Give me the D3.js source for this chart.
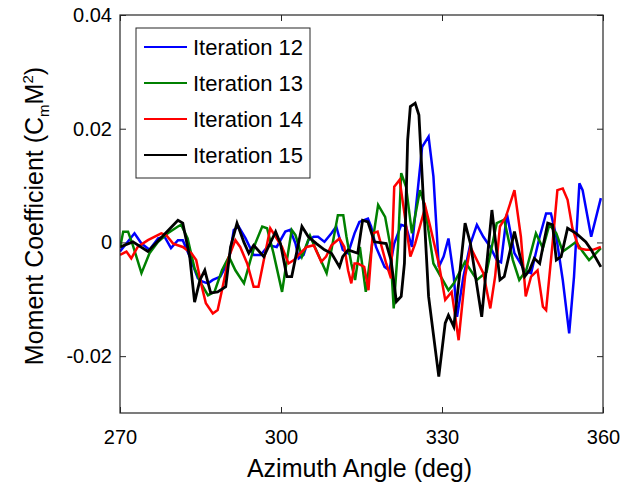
<!DOCTYPE html>
<html>
<head>
<meta charset="utf-8">
<script src="https://cdn.jsdelivr.net/npm/d3@7"></script>
<style>
  html, body { margin: 0; padding: 0; background: #fff; }
  svg { display: block; }
  text { font-family: "Liberation Sans", Arial, Helvetica, sans-serif; fill: #000; }
</style>
</head>
<body>
<svg id="chart" width="628" height="487"></svg>
<script>
// ---------- data ----------
const xTicks = [270, 300, 330, 360];
const yTicks = [0.04, 0.02, 0, -0.02];
const seriesNames = ["Iteration 12", "Iteration 13", "Iteration 14", "Iteration 15"];
const seriesColors = ["#0000ff", "#008000", "#ff0000", "#000000"];

const angles12 = [270.0,272.7,274.0,275.5,277.1,278.3,279.5,280.8,281.7,283.0,284.5,285.4,286.4,287.3,288.7,290.3,291.2,292.1,293.4,294.9,296.2,297.7,299.2,300.8,301.7,302.7,303.3,304.2,305.1,306.1,306.9,308.1,309.4,310.3,311.5,312.5,313.7,314.6,316.2,316.8,317.7,319.3,320.2,321.1,322.4,323.3,324.4,326.3,327.5,328.4,329.4,330.3,331.2,332.2,332.8,334.0,335.3,336.5,337.7,339.0,340.2,341.0,342.1,343.5,345.4,346.6,348.2,349.4,350.3,351.3,352.5,353.7,354.6,355.6,356.2,357.8,359.6];
const values12 = [-0.0016,0.0016,-0.0002,-0.0013,0.0007,0.001,-0.001,0.0004,0.0004,-0.0025,-0.0063,-0.0069,-0.0072,-0.0066,-0.006,-0.0031,0.0022,0.0028,0.0007,-0.0022,-0.0022,-0.0005,-0.0008,0.0019,0.0022,-0.0002,-0.0028,-0.0022,0.0004,0.001,0.001,0.0001,0.0016,0.0028,-0.0013,-0.0019,0.0016,0.0036,0.0042,0.0028,-0.0008,-0.0043,-0.0049,-0.0002,0.0031,0.0028,-0.0008,0.0168,0.0186,0.0116,-0.0043,-0.0025,0.0007,-0.006,-0.0131,-0.006,-0.0002,0.0031,0.001,-0.0008,-0.0031,-0.0035,0.005,-0.0019,-0.0049,-0.0054,0.001,0.0051,0.0051,0.001,-0.0066,-0.016,-0.006,0.0104,0.0092,0.001,0.0078];

const angles13 = [270.0,270.6,271.5,272.4,274.0,275.5,277.1,278.9,280.8,281.4,282.6,283.9,285.1,286.4,287.6,289.0,290.3,291.5,293.1,294.3,295.2,296.5,297.4,298.6,300.2,301.1,302.0,302.7,303.9,305.4,306.3,308.5,309.4,310.6,311.6,312.2,313.1,313.8,314.7,315.8,316.9,318.1,319.4,320.3,321.0,321.8,322.4,323.3,324.4,325.9,326.8,328.4,331.2,332.2,334.3,336.5,338.3,340.2,341.6,343.2,344.4,345.7,347.5,348.8,350.0,351.3,352.5,353.7,355.0,356.2,357.4,358.4,359.6];
const values13 = [-0.001,0.0019,0.0019,-0.0005,-0.0054,-0.0019,0.0001,0.0016,0.0028,0.0031,0.0007,-0.0046,-0.0072,-0.0093,-0.0087,-0.0049,-0.0025,-0.0049,-0.0072,-0.0031,-0.0002,0.0028,0.0025,-0.0019,-0.0087,-0.0031,0.0022,0.0013,-0.0025,0.0012,-0.0008,-0.0054,-0.0013,0.0048,0.0048,0.001,-0.0037,-0.0066,-0.0008,-0.0087,-0.0008,0.0066,0.0045,-0.0002,-0.0116,-0.0008,0.0122,0.0098,0.0016,0.0092,0.0063,-0.0037,-0.0084,-0.0072,-0.0034,-0.0066,-0.0052,0.0034,0.0040,-0.0031,-0.0066,-0.0049,0.0016,-0.001,0.0031,0.0016,-0.0016,-0.0008,0.0001,-0.0016,-0.0031,-0.0022,-0.001];

const angles14 = [270.0,271.2,272.1,273.3,275.2,277.7,278.6,279.9,281.7,283.3,284.2,285.1,286.0,287.3,288.2,289.0,290.3,291.5,292.4,293.7,294.9,295.8,296.8,298.0,299.0,300.2,301.4,302.4,303.6,304.8,306.1,307.5,308.4,309.4,310.9,311.8,312.5,313.1,313.7,314.3,315.5,316.3,317.1,318.0,319.6,320.5,321.1,322.1,323.0,324.1,325.0,326.9,327.8,329.4,330.6,331.8,333.1,334.3,335.3,337.7,339.0,339.9,340.8,341.9,343.5,344.7,345.6,346.6,347.8,348.8,349.4,350.6,351.5,352.5,353.4,354.3,355.5,356.8,358.1,359.6];
const values14 = [-0.0022,-0.0016,-0.0028,-0.0008,0.0004,0.0016,0.0013,-0.0002,-0.0008,-0.0019,-0.0031,-0.0072,-0.0107,-0.0125,-0.0119,-0.0084,-0.0025,0.0004,-0.0008,-0.0037,-0.0078,-0.0078,-0.0031,0.0025,0.001,-0.0008,-0.0037,-0.0031,-0.0019,-0.0008,-0.0005,-0.0034,-0.0025,-0.0005,0.0007,-0.0008,-0.0049,-0.0072,-0.0037,-0.0037,-0.0043,-0.0084,0.0016,0.0019,-0.0037,-0.0063,0.0098,0.011,0.0051,-0.0025,-0.0002,0.0063,0.0028,-0.0037,-0.0101,-0.0087,-0.0172,-0.006,-0.0008,-0.0054,-0.0116,-0.006,0.0028,0.0045,0.0092,0.001,-0.0095,-0.006,-0.0049,-0.0113,-0.0119,-0.0002,0.0092,0.0095,0.0075,0.0025,-0.001,-0.0013,-0.0013,-0.0008];

const angles15 = [270.0,272.4,275.2,280.8,281.7,283.0,283.9,284.9,285.8,286.9,288.2,289.7,290.6,291.8,293.1,294.0,294.9,296.8,299.0,299.9,301.1,302.0,303.9,305.1,306.6,308.1,309.4,310.9,311.5,312.5,314.3,315.2,316.2,317.4,319.6,320.5,321.5,322.4,323.0,323.6,324.1,325.0,325.7,326.6,327.5,329.4,330.6,331.2,332.2,333.1,334.3,335.3,337.4,339.3,340.8,341.6,343.5,345.4,346.3,347.2,348.2,348.8,349.7,350.6,351.3,352.2,353.4,355.0,356.8,357.8,359.6];
const values15 = [-0.0008,0.0001,-0.0016,0.0039,0.0034,-0.0026,-0.0105,-0.0066,-0.0049,-0.0089,-0.0087,-0.0078,-0.0008,0.0034,0.0,-0.0019,-0.0005,-0.0025,0.0019,-0.0002,-0.006,-0.006,0.0028,0.001,-0.0002,-0.0013,-0.0019,-0.0043,-0.0025,-0.0013,-0.0019,0.0039,0.0036,0.0001,-0.0002,-0.0031,-0.0104,-0.0095,-0.0037,0.018,0.0239,0.0245,0.0224,0.0063,-0.0095,-0.0236,-0.0142,-0.0128,-0.0148,-0.0072,0.0034,-0.0002,-0.0131,0.0057,-0.0066,-0.006,0.0019,-0.006,-0.0049,-0.0028,-0.0037,-0.0008,0.0034,0.0031,-0.0031,-0.0025,0.0025,0.0016,0.0001,-0.0013,-0.0043];

const seriesAngles = [angles12, angles13, angles14, angles15];
const seriesValues = [values12, values13, values14, values15];

// ---------- layout ----------
const svg = d3.select("#chart");
const L = 120, R = 603, T = 15, B = 413;
const x = d3.scaleLinear().domain([270, 360]).range([L, R]);
const y = d3.scaleLinear().domain([-0.03, 0.04]).range([B, T]);
const axisColor = "#262626";

// clip
svg.append("defs").append("clipPath").attr("id", "clip")
  .append("rect").attr("x", L).attr("y", T).attr("width", R - L).attr("height", B - T);

// lines
const line = d3.line().x(d => x(d[0])).y(d => y(d[1]));
const gLines = svg.append("g").attr("clip-path", "url(#clip)");
seriesNames.forEach((name, i) => {
  const pts = seriesAngles[i].map((a, j) => [a, seriesValues[i][j]]);
  gLines.append("path")
    .datum(pts)
    .attr("d", line)
    .attr("fill", "none")
    .attr("stroke", seriesColors[i])
    .attr("stroke-width", i === 3 ? 2.8 : 2.5)
    .attr("stroke-linejoin", "miter");
});

// axes with inward ticks
const fmtY = d => d === 0 ? "0" : d3.format(".2f")(d).replace("−", "-");
const tickLen = 6;
const gBottom = svg.append("g").attr("transform", `translate(0,${B})`)
  .call(d3.axisBottom(x).tickValues(xTicks).tickSizeInner(-tickLen).tickSizeOuter(0).tickPadding(17).tickFormat(d3.format("d")));
const gTop = svg.append("g").attr("transform", `translate(0,${T})`)
  .call(d3.axisTop(x).tickValues(xTicks).tickSizeInner(-tickLen).tickSizeOuter(0).tickFormat(""));
const gLeft = svg.append("g").attr("transform", `translate(${L},0)`)
  .call(d3.axisLeft(y).tickValues(yTicks).tickSizeInner(-tickLen).tickSizeOuter(0).tickPadding(8).tickFormat(fmtY));
const gRight = svg.append("g").attr("transform", `translate(${R},0)`)
  .call(d3.axisRight(y).tickValues(yTicks).tickSizeInner(-tickLen).tickSizeOuter(0).tickFormat(""));

[gBottom, gTop, gLeft, gRight].forEach(g => {
  g.select(".domain").remove();
  g.selectAll(".tick line").attr("stroke", axisColor).attr("stroke-width", 1);
  g.selectAll(".tick text").attr("font-size", 20).attr("font-family", '"Liberation Sans", Arial, sans-serif').attr("fill", "#000");
});
gBottom.selectAll(".tick text").attr("dy", "0.71em");

// box
svg.append("rect").attr("x", L).attr("y", T).attr("width", R - L).attr("height", B - T)
  .attr("fill", "none").attr("stroke", axisColor).attr("stroke-width", 1.2);

// axis titles
svg.append("text").attr("x", (L + R) / 2 - 2).attr("y", 477).attr("text-anchor", "middle")
  .attr("font-size", 25).text("Azimuth Angle (deg)");

const yt = svg.append("text").attr("transform", `translate(43,216) rotate(-90)`)
  .attr("text-anchor", "middle").attr("font-size", 25);
yt.append("tspan").text("Moment Coefficient (C");
yt.append("tspan").attr("font-size", 15).attr("dy", 6).text("m");
yt.append("tspan").attr("dy", -6).text("M");
yt.append("tspan").attr("font-size", 15).attr("dy", -10).text("2");
yt.append("tspan").attr("dy", 10).text(")");

// legend
const lg = svg.append("g");
lg.append("rect").attr("x", 136).attr("y", 28).attr("width", 174).attr("height", 150)
  .attr("fill", "#fff").attr("stroke", axisColor).attr("stroke-width", 1);
seriesNames.forEach((name, i) => {
  const cy = 47 + i * 36;
  lg.append("line").attr("x1", 144).attr("x2", 187).attr("y1", cy).attr("y2", cy)
    .attr("stroke", seriesColors[i]).attr("stroke-width", 2);
  lg.append("text").attr("x", 193).attr("y", cy).attr("dy", "0.36em")
    .attr("font-size", 22).text(name);
});
</script>
</body>
</html>
